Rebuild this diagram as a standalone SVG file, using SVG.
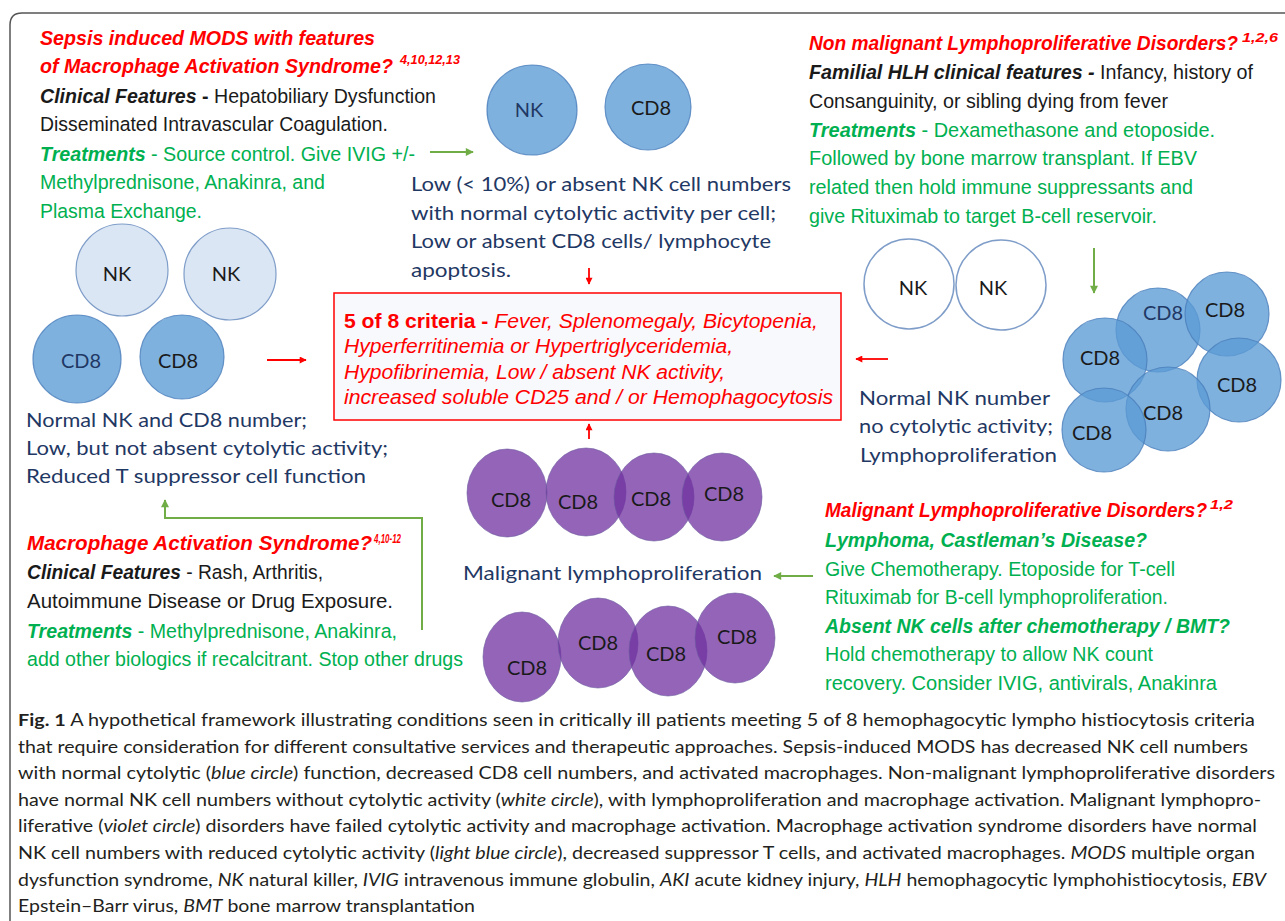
<svg xmlns="http://www.w3.org/2000/svg" width="1285" height="921" viewBox="0 0 1285 921">
<style>
.a{font-family:"Liberation Sans",Arial,sans-serif;font-size:20.5px}
.bx{font-family:"Liberation Sans",Arial,sans-serif;font-size:20.5px;fill:#FF0000;font-style:italic}
.bi{font-weight:bold;font-style:italic}
.b{font-weight:bold}
.red{fill:#FF0000}
.grn{fill:#00B050}
.blk{fill:#1a1a1a}
.sup{font-family:"Liberation Sans",Arial,sans-serif;font-size:12.5px;font-weight:bold;font-style:italic;fill:#FF0000}
.nv{font-family:Lato,"Open Sans",sans-serif;font-size:20px;fill:#1F3864}
.lbl{font-family:Lato,"Open Sans",sans-serif;font-size:20px;text-anchor:middle;fill:#1a1a1a}
.lbn{fill:#1F3864}
.cap{font-family:Lato,"Open Sans",sans-serif;font-size:17.5px;fill:#231F20}
.it{font-style:italic}
.cb{fill:#5B9BD5;fill-opacity:0.78;stroke:#4A7EBB;stroke-opacity:0.8;stroke-width:1.2}
.cl{fill:#DAE6F3;stroke:#7F9DC9;stroke-width:1.2}
.cw{fill:#FFFFFF;stroke:#7F9DC9;stroke-width:1.5}
.cp{fill:#7030A0;fill-opacity:0.75;stroke:#6A5A9E;stroke-opacity:0.6;stroke-width:1}
.cr{stroke:#FF0000;stroke-width:1.8;fill:none}
.cg{stroke:#70AD47;stroke-width:2;fill:none}
</style>
<defs>
<marker id="mr" viewBox="0 0 10 10" refX="9" refY="5" markerWidth="8" markerHeight="7" markerUnits="userSpaceOnUse" orient="auto"><path d="M0,0 L10,5 L0,10 z" fill="#FF0000"/></marker>
<marker id="mg" viewBox="0 0 10 10" refX="9" refY="5" markerWidth="9" markerHeight="8" markerUnits="userSpaceOnUse" orient="auto"><path d="M0,0 L10,5 L0,10 z" fill="#70AD47"/></marker>
</defs>
<rect x="0" y="0" width="1285" height="921" fill="#FFFFFF"/>
<path d="M10,921 V25 Q10,13 22,13 H1285" fill="none" stroke="#555" stroke-width="1.5"/>

<g id="sepsis-text">
<text class="a bi red" x="40" y="45" textLength="335" lengthAdjust="spacingAndGlyphs">Sepsis induced MODS with features</text>
<text class="a bi red" x="40" y="73" textLength="353" lengthAdjust="spacingAndGlyphs">of Macrophage Activation Syndrome?</text>
<text class="sup" x="400" y="64" textLength="60" lengthAdjust="spacingAndGlyphs">4,10,12,13</text>
<text class="a blk" x="40" y="103" textLength="396" lengthAdjust="spacingAndGlyphs"><tspan class="bi">Clinical Features</tspan><tspan class="b"> -</tspan> Hepatobiliary Dysfunction</text>
<text class="a blk" x="40" y="131" textLength="348" lengthAdjust="spacingAndGlyphs">Disseminated Intravascular Coagulation.</text>
<text class="a grn" x="40" y="161" textLength="375" lengthAdjust="spacingAndGlyphs"><tspan class="bi">Treatments</tspan> - Source control. Give IVIG +/-</text>
<text class="a grn" x="40" y="189" textLength="285" lengthAdjust="spacingAndGlyphs">Methylprednisone, Anakinra, and</text>
<text class="a grn" x="40" y="218" textLength="162" lengthAdjust="spacingAndGlyphs">Plasma Exchange.</text>
</g>

<g id="top-cells">
<circle class="cb" cx="532" cy="110" r="45"/>
<circle class="cb" cx="648" cy="107" r="43"/>
<text class="lbl lbn" x="529" y="117">NK</text>
<text class="lbl" x="651" y="115">CD8</text>
</g>

<g id="top-desc">
<text class="nv" x="411" y="191" textLength="380" lengthAdjust="spacingAndGlyphs">Low (&lt; 10%) or absent NK cell numbers</text>
<text class="nv" x="411" y="220" textLength="365" lengthAdjust="spacingAndGlyphs">with normal cytolytic activity per cell;</text>
<text class="nv" x="411" y="248" textLength="360" lengthAdjust="spacingAndGlyphs">Low or absent CD8 cells/ lymphocyte</text>
<text class="nv" x="411" y="277" textLength="100" lengthAdjust="spacingAndGlyphs">apoptosis.</text>
</g>

<g id="criteria">
<rect x="334" y="293" width="507" height="127" fill="#F8F9FC" stroke="#FF0000" stroke-width="1.5"/>
<text class="bx" x="344" y="328" textLength="474" lengthAdjust="spacingAndGlyphs"><tspan font-weight="bold" font-style="normal">5 of 8 criteria - </tspan>Fever, Splenomegaly, Bicytopenia,</text>
<text class="bx" x="344" y="353" textLength="389" lengthAdjust="spacingAndGlyphs">Hyperferritinemia or Hypertriglyceridemia,</text>
<text class="bx" x="344" y="379" textLength="381" lengthAdjust="spacingAndGlyphs">Hypofibrinemia, Low / absent NK activity,</text>
<text class="bx" x="344" y="404" textLength="489" lengthAdjust="spacingAndGlyphs">increased soluble CD25 and / or Hemophagocytosis</text>
</g>

<g id="left-cells">
<circle class="cl" cx="122" cy="270" r="46"/>
<circle class="cl" cx="230" cy="274" r="46"/>
<circle class="cb" cx="77" cy="359" r="44"/>
<circle class="cb" cx="182" cy="357" r="42"/>
<text class="lbl" x="117" y="281">NK</text>
<text class="lbl" x="226" y="281">NK</text>
<text class="lbl lbn" x="81" y="368">CD8</text>
<text class="lbl" x="178" y="368">CD8</text>
</g>

<g id="left-desc">
<text class="nv" x="26" y="427" textLength="281" lengthAdjust="spacingAndGlyphs">Normal NK and CD8 number;</text>
<text class="nv" x="26" y="455" textLength="362" lengthAdjust="spacingAndGlyphs">Low, but not absent cytolytic activity;</text>
<text class="nv" x="26" y="483" textLength="340" lengthAdjust="spacingAndGlyphs">Reduced T suppressor cell function</text>
</g>

<g id="nonmalignant-text">
<text class="a bi red" x="809" y="50" textLength="429" lengthAdjust="spacingAndGlyphs">Non malignant Lymphoproliferative Disorders?</text>
<text class="sup" x="1242" y="42" textLength="36" lengthAdjust="spacingAndGlyphs">1,2,6</text>
<text class="a blk" x="809" y="79" textLength="444" lengthAdjust="spacingAndGlyphs"><tspan class="bi">Familial HLH clinical features -</tspan> Infancy, history of</text>
<text class="a blk" x="809" y="108" textLength="359" lengthAdjust="spacingAndGlyphs">Consanguinity, or sibling dying from fever</text>
<text class="a grn" x="809" y="137" textLength="406" lengthAdjust="spacingAndGlyphs"><tspan class="bi">Treatments</tspan> -  Dexamethasone and etoposide.</text>
<text class="a grn" x="809" y="165" textLength="388" lengthAdjust="spacingAndGlyphs">Followed by bone marrow transplant.  If EBV</text>
<text class="a grn" x="809" y="194" textLength="384" lengthAdjust="spacingAndGlyphs">related then hold immune suppressants and</text>
<text class="a grn" x="809" y="223" textLength="348" lengthAdjust="spacingAndGlyphs">give Rituximab to target B-cell reservoir.</text>
</g>

<g id="right-nk">
<circle class="cw" cx="909" cy="284" r="45"/>
<circle class="cw" cx="1001" cy="285" r="45"/>
<text class="lbl" x="913" y="295">NK</text>
<text class="lbl" x="993" y="295">NK</text>
</g>

<g id="right-cd8">
<circle class="cb" cx="1158" cy="330" r="42"/>
<circle class="cb" cx="1227" cy="314" r="42"/>
<circle class="cb" cx="1105" cy="360" r="42"/>
<circle class="cb" cx="1239" cy="380" r="42"/>
<circle class="cb" cx="1168" cy="409" r="42"/>
<circle class="cb" cx="1104" cy="430" r="42"/>
<text class="lbl lbn" x="1163" y="320">CD8</text>
<text class="lbl" x="1225" y="317">CD8</text>
<text class="lbl" x="1100" y="365">CD8</text>
<text class="lbl" x="1237" y="392">CD8</text>
<text class="lbl" x="1163" y="420">CD8</text>
<text class="lbl" x="1092" y="440">CD8</text>
</g>

<g id="right-desc">
<text class="nv" x="859" y="405" textLength="191" lengthAdjust="spacingAndGlyphs">Normal NK number</text>
<text class="nv" x="859" y="433" textLength="194" lengthAdjust="spacingAndGlyphs">no cytolytic activity;</text>
<text class="nv" x="860" y="462" textLength="197" lengthAdjust="spacingAndGlyphs">Lymphoproliferation</text>
</g>

<g id="mas-text">
<text class="a bi red" x="27" y="550" textLength="345" lengthAdjust="spacingAndGlyphs">Macrophage Activation Syndrome?</text>
<text class="sup" x="374" y="543" textLength="27" lengthAdjust="spacingAndGlyphs">4,10-12</text>
<text class="a blk" x="27" y="579" textLength="296" lengthAdjust="spacingAndGlyphs"><tspan class="bi">Clinical Features</tspan> - Rash, Arthritis,</text>
<text class="a blk" x="27" y="608" textLength="366" lengthAdjust="spacingAndGlyphs">Autoimmune Disease or Drug Exposure.</text>
<text class="a grn" x="27" y="638" textLength="370" lengthAdjust="spacingAndGlyphs"><tspan class="bi">Treatments</tspan> - Methylprednisone, Anakinra,</text>
<text class="a grn" x="27" y="666" textLength="436" lengthAdjust="spacingAndGlyphs">add other biologics if recalcitrant. Stop other drugs</text>
</g>

<g id="purple-top">
<ellipse class="cp" cx="507" cy="493" rx="40" ry="44"/>
<ellipse class="cp" cx="586" cy="492" rx="40" ry="44"/>
<ellipse class="cp" cx="654" cy="497" rx="40" ry="44"/>
<ellipse class="cp" cx="722" cy="497" rx="40" ry="44"/>
<text class="lbl" x="511" y="507">CD8</text>
<text class="lbl" x="578" y="509">CD8</text>
<text class="lbl" x="651" y="506">CD8</text>
<text class="lbl" x="724" y="501">CD8</text>
</g>

<g id="malignant-label">
<text class="nv" x="463" y="580" textLength="299" lengthAdjust="spacingAndGlyphs">Malignant lymphoproliferation</text>
</g>

<g id="purple-bottom">
<ellipse class="cp" cx="522" cy="657" rx="39" ry="45"/>
<ellipse class="cp" cx="598" cy="643" rx="40" ry="45"/>
<ellipse class="cp" cx="668" cy="651" rx="39" ry="45"/>
<ellipse class="cp" cx="735" cy="638" rx="40" ry="45"/>
<text class="lbl" x="527" y="675">CD8</text>
<text class="lbl" x="598" y="650">CD8</text>
<text class="lbl" x="666" y="661">CD8</text>
<text class="lbl" x="737" y="644">CD8</text>
</g>

<g id="malignant-text">
<text class="a bi red" x="825" y="517" textLength="382" lengthAdjust="spacingAndGlyphs">Malignant Lymphoproliferative Disorders?</text>
<text class="sup" x="1210" y="509" textLength="23" lengthAdjust="spacingAndGlyphs">1,2</text>
<text class="a bi grn" x="825" y="547" textLength="322" lengthAdjust="spacingAndGlyphs">Lymphoma, Castleman’s Disease?</text>
<text class="a grn" x="825" y="576" textLength="350" lengthAdjust="spacingAndGlyphs">Give Chemotherapy. Etoposide for T-cell</text>
<text class="a grn" x="825" y="604" textLength="343" lengthAdjust="spacingAndGlyphs">Rituximab for B-cell lymphoproliferation.</text>
<text class="a bi grn" x="825" y="633" textLength="405" lengthAdjust="spacingAndGlyphs">Absent NK cells after chemotherapy / BMT?</text>
<text class="a grn" x="825" y="661" textLength="328" lengthAdjust="spacingAndGlyphs">Hold chemotherapy to allow NK count</text>
<text class="a grn" x="825" y="690" textLength="392" lengthAdjust="spacingAndGlyphs">recovery. Consider IVIG,  antivirals, Anakinra</text>
</g>

<g id="connectors">
<line class="cg" x1="430" y1="152" x2="473" y2="152" marker-end="url(#mg)"/>
<line class="cr" x1="589" y1="268" x2="589" y2="284" marker-end="url(#mr)"/>
<line class="cr" x1="589" y1="439" x2="589" y2="424" marker-end="url(#mr)"/>
<line class="cr" x1="267" y1="360" x2="306" y2="360" marker-end="url(#mr)"/>
<line class="cr" x1="888" y1="359" x2="856" y2="359" marker-end="url(#mr)"/>
<line class="cg" x1="1094" y1="248" x2="1094" y2="293" marker-end="url(#mg)"/>
<line class="cg" x1="813" y1="576" x2="774" y2="576" marker-end="url(#mg)"/>
<polyline class="cg" points="422,630 422,518 165,518 165,500" marker-end="url(#mg)"/>
</g>

<g id="caption">
<text class="cap" x="18" y="726" textLength="1237" lengthAdjust="spacingAndGlyphs"><tspan font-weight="bold">Fig. 1</tspan>  A hypothetical framework illustrating conditions seen in critically ill patients meeting 5 of 8 hemophagocytic lympho histiocytosis criteria</text>
<text class="cap" x="18" y="752.6" textLength="1230" lengthAdjust="spacingAndGlyphs">that require consideration for different consultative services and therapeutic approaches. Sepsis-induced MODS has decreased NK cell numbers</text>
<text class="cap" x="18" y="779.2" textLength="1257" lengthAdjust="spacingAndGlyphs">with normal cytolytic (<tspan class="it">blue circle</tspan>) function, decreased CD8 cell numbers, and activated macrophages. Non-malignant lymphoproliferative disorders</text>
<text class="cap" x="18" y="805.8" textLength="1243" lengthAdjust="spacingAndGlyphs">have normal NK cell numbers without cytolytic activity (<tspan class="it">white circle</tspan>), with lymphoproliferation and macrophage activation. Malignant lymphopro-</text>
<text class="cap" x="18" y="832.4" textLength="1239" lengthAdjust="spacingAndGlyphs">liferative (<tspan class="it">violet circle</tspan>) disorders have failed cytolytic activity and macrophage activation. Macrophage activation syndrome disorders have normal</text>
<text class="cap" x="18" y="859" textLength="1237" lengthAdjust="spacingAndGlyphs">NK cell numbers with reduced cytolytic activity (<tspan class="it">light blue circle</tspan>), decreased suppressor T cells, and activated macrophages. <tspan class="it">MODS</tspan> multiple organ</text>
<text class="cap" x="18" y="885.6" textLength="1248" lengthAdjust="spacingAndGlyphs">dysfunction syndrome, <tspan class="it">NK</tspan> natural killer, <tspan class="it">IVIG</tspan> intravenous immune globulin, <tspan class="it">AKI</tspan> acute kidney injury, <tspan class="it">HLH</tspan> hemophagocytic lymphohistiocytosis, <tspan class="it">EBV</tspan></text>
<text class="cap" x="18" y="912.2" textLength="457" lengthAdjust="spacingAndGlyphs">Epstein–Barr virus, <tspan class="it">BMT</tspan> bone marrow transplantation</text>
</g>
</svg>
